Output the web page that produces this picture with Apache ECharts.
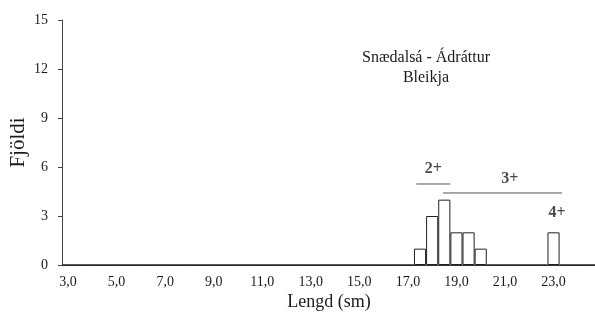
<!DOCTYPE html>
<html>
<head>
<meta charset="utf-8">
<script src="https://cdn.jsdelivr.net/npm/echarts@6/dist/echarts.min.js"></script>
<style>
  html, body { margin: 0; padding: 0; background: #fff; }
  #chart { width: 595px; height: 323px; }
</style>
</head>
<body>
<div id="chart"></div>
<script>
  // lengdarflokkar 3,0 - 24,5 sm (0,5 sm bil)
  var lengths = [3.0, 3.5, 4.0, 4.5, 5.0, 5.5, 6.0, 6.5, 7.0, 7.5, 8.0, 8.5, 9.0, 9.5, 10.0, 10.5,
    11.0, 11.5, 12.0, 12.5, 13.0, 13.5, 14.0, 14.5, 15.0, 15.5, 16.0, 16.5, 17.0, 17.5, 18.0, 18.5,
    19.0, 19.5, 20.0, 20.5, 21.0, 21.5, 22.0, 22.5, 23.0, 23.5, 24.0, 24.5]
  var counts = [0, 0, 0, 0, 0, 0, 0, 0, 0, 0, 0, 0, 0, 0, 0, 0,
    0, 0, 0, 0, 0, 0, 0, 0, 0, 0, 0, 0, 0, 1, 3, 4,
    2, 2, 1, 0, 0, 0, 0, 0, 2, 0, 0, 0]
  var yTicks = [0, 3, 6, 9, 12, 15]

  // aldurshópar
  var ageNames = ['2+', '3+', '4+']
  var ageFrom = [17.35, 18.45, null]
  var ageTo = [18.75, 23.35, null]
  var ageLineY = [4.96, 4.41, null]
  var ageLabelX = [18.05, 21.2, 23.15]
  var ageLabelY = [5.88, 5.27, 3.18]

  var serif = 'Liberation Serif'
  var ink = '#1a1a1a'

  var lineSeries = []
  ageNames.forEach(function (n, i) {
    if (ageFrom[i] == null) return
    lineSeries.push({
      type: 'line',
      xAxisIndex: 1,
      symbol: 'none',
      silent: true,
      lineStyle: { color: '#555', width: 1 },
      data: [[ageFrom[i], ageLineY[i]], [ageTo[i], ageLineY[i]]]
    })
  })

  var chart = echarts.init(document.getElementById('chart'))
  chart.setOption({
    animation: false,
    title: {
      text: 'Snædalsá - Ádráttur\nBleikja',
      left: 421,
      top: 43,
      textAlign: 'center',
      textStyle: {
        fontFamily: serif, fontSize: 16, fontWeight: 'normal', color: ink, lineHeight: 20
      }
    },
    grid: { left: 62, right: -1, top: 20, bottom: 58, outerBoundsMode: 'none', containLabel: false },
    xAxis: [{
      type: 'category',
      data: lengths.map(function (v) { return v.toFixed(1).replace('.', ',') }),
      name: 'Lengd (sm)',
      nameLocation: 'middle',
      nameGap: 28,
      nameMoveOverlap: false,
      nameTextStyle: { fontFamily: serif, fontSize: 18, color: ink },
      axisLine: { lineStyle: { color: '#333', width: 1 } },
      axisTick: { interval: 0, length: 4, lineStyle: { color: '#333' } },
      axisLabel: { interval: 3, fontFamily: serif, fontSize: 14, color: ink, margin: 10 },
      splitLine: { show: false }
    }, {
      type: 'value',
      min: 2.75,
      max: 24.75,
      show: false
    }],
    yAxis: {
      type: 'value',
      min: yTicks[0],
      max: yTicks[yTicks.length - 1],
      interval: 3,
      name: 'Fjöldi',
      nameLocation: 'middle',
      nameGap: 33,
      nameMoveOverlap: false,
      nameRotate: 90,
      nameTextStyle: { fontFamily: serif, fontSize: 21, color: ink },
      axisLine: { show: true, lineStyle: { color: '#444', width: 1 } },
      axisTick: { show: true, length: 4, lineStyle: { color: '#444' } },
      axisLabel: { fontFamily: serif, fontSize: 14, color: ink, margin: 14 },
      splitLine: { show: false }
    },
    series: [{
      type: 'bar',
      data: counts,
      barCategoryGap: 0,
      itemStyle: { color: '#fff', borderColor: '#222', borderWidth: 1 }
    }].concat(lineSeries, [{
      type: 'scatter',
      xAxisIndex: 1,
      symbolSize: 0,
      silent: true,
      data: ageNames.map(function (n, i) { return { name: n, value: [ageLabelX[i], ageLabelY[i]] } }),
      label: {
        show: true,
        position: 'inside',
        formatter: '{b}',
        fontFamily: serif,
        fontSize: 16,
        fontWeight: 'bold',
        color: ink
      }
    }])
  })
</script>
</body>
</html>
